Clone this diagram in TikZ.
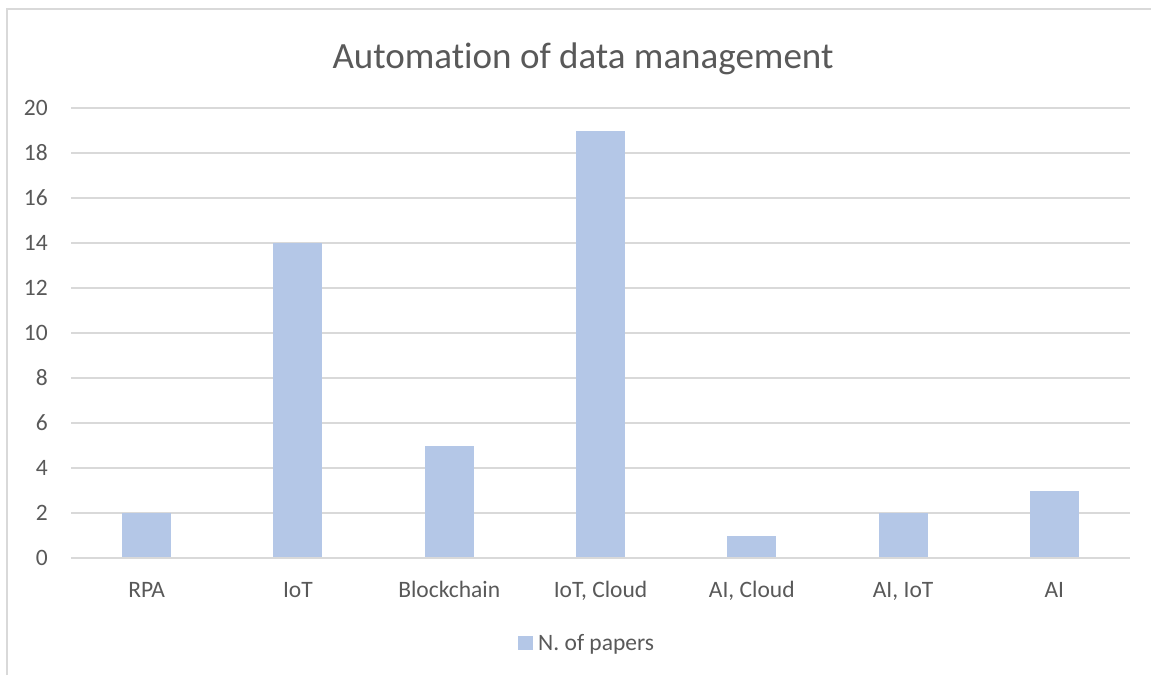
\documentclass[tikz,border=0pt]{standalone}
\usepackage{fontspec}
\setmainfont[Ligatures=NoCommon]{Carlito}
\definecolor{bar}{HTML}{B4C7E7}
\definecolor{grid}{HTML}{D9D9D9}
\definecolor{txt}{HTML}{595959}
\begin{document}
\begin{tikzpicture}[x=1pt,y=-1pt,
  gridline/.style={draw=grid,line width=1.5pt},
  barfill/.style={fill=bar},
  ylab/.style={anchor=east,text=txt,font=\fontsize{23.5}{26}\selectfont,inner sep=0pt},
  xlab/.style={anchor=base,text=txt,font=\fontsize{23.5}{26}\selectfont,inner sep=0pt},
  ]
\useasboundingbox (0,0) rectangle (1151,675);
\fill[white] (0,0) rectangle (1151,675);
% chart border (left and top visible)
\draw[draw=grid,line width=2pt] (7,675) -- (7,9) -- (1151,9);
% title
\node[anchor=base,text=txt,font=\fontsize{37}{42}\selectfont,inner sep=0pt] (title) at (583,68) {Automation of data management};
% gridlines and y labels
\foreach \v in {0,2,...,20}{
  \draw[gridline] (71,{558-22.5*\v}) -- (1130,{558-22.5*\v});
  \node[ylab] (y\v) at (48,{558-22.5*\v}) {\v};
}
% bars
\foreach \i/\val/\lab in {0/2/RPA,1/14/IoT,2/5/Blockchain,3/19/{IoT, Cloud},4/1/{AI, Cloud},5/2/{AI, IoT},6/3/AI}{
  \pgfmathsetmacro{\cx}{71+151.29*(\i+0.5)}
  \fill[barfill] ({\cx-24.5},557) rectangle ({\cx+24.5},{558-22.5*\val});
  \node[xlab] (c\i) at (\cx,597) {\lab};
}
% legend
\fill[barfill] (518,635.5) rectangle (533,650);
\node[anchor=base west,text=txt,font=\fontsize{23.5}{26}\selectfont,inner sep=0pt] (leg) at (538,650) {N. of papers};
\end{tikzpicture}
\end{document}
